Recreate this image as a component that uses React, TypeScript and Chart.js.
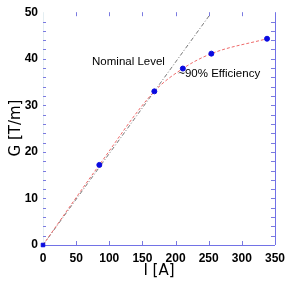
import React, { useEffect, useRef } from "react";
import { Chart, registerables } from "chart.js";

Chart.register(...registerables);

const currentA = [0, 85, 168, 211, 254, 338];
const gradientTm = [0, 17.2, 33, 37.9, 41.1, 44.3];
const nominalI = [0, 252];
const nominalG = [0, 49.5];
const xTickValues = [0, 50, 100, 150, 200, 250, 300, 350];
const yMinorStep = 2;
const annotations = [
  { text: "Nominal Level", x: 74, y: 39.3 },
  { text: "~90% Efficiency", x: 204, y: 36.8 },
];

const decoPlugin = {
  id: "deco",
  beforeDatasetsDraw(chart: any) {
    const { ctx, chartArea } = chart;
    const xs = chart.scales.x;
    const ys = chart.scales.y;
    const { left, right, top, bottom } = chartArea;
    ctx.save();
    ctx.lineWidth = 1;
    ctx.strokeStyle = "#e4eef2";
    ctx.beginPath();
    ctx.moveTo(left + 0.5, top);
    ctx.lineTo(left + 0.5, bottom);
    ctx.stroke();
    ctx.strokeStyle = "#7272e6";
    ctx.beginPath();
    ctx.moveTo(left, Math.round(bottom) + 0.5);
    ctx.lineTo(right, Math.round(bottom) + 0.5);
    ctx.moveTo(Math.round(right) + 0.5, top);
    ctx.lineTo(Math.round(right) + 0.5, bottom);
    ctx.stroke();
    ctx.strokeStyle = "#7a7ae0";
    ctx.beginPath();
    xTickValues.forEach((v) => {
      const px = Math.round(xs.getPixelForValue(v)) + 0.5;
      if (v > 0 && v < 350) {
        ctx.moveTo(px, bottom);
        ctx.lineTo(px, bottom - 4);
        ctx.moveTo(px, top);
        ctx.lineTo(px, top + 4);
      }
    });
    ctx.stroke();
    ctx.beginPath();
    for (let v = yMinorStep; v < 50; v += yMinorStep) {
      const py = Math.round(ys.getPixelForValue(v)) + 0.5;
      ctx.moveTo(left, py);
      ctx.lineTo(left + 3, py);
      ctx.moveTo(right, py);
      ctx.lineTo(right - 4, py);
    }
    ctx.stroke();
    ctx.restore();
  },
  afterDatasetsDraw(chart: any) {
    const { ctx, chartArea } = chart;
    const xs = chart.scales.x;
    const ys = chart.scales.y;
    ctx.save();
    ctx.fillStyle = "#000";
    ctx.font = "11.5px 'Liberation Sans'";
    ctx.textBaseline = "middle";
    ctx.textAlign = "left";
    annotations.forEach((a) => {
      ctx.fillText(a.text, xs.getPixelForValue(a.x), ys.getPixelForValue(a.y));
    });
    ctx.textAlign = "center";
    ctx.font = "15px 'DejaVu Sans'";
    ctx.fillText("I [A]", (chartArea.left + chartArea.right) / 2, 271);
    ctx.translate(16, 128);
    ctx.rotate(-Math.PI / 2);
    ctx.fillText("G [T/m]", 0, 0);
    ctx.restore();
  },
};

export default function App() {
  const ref = useRef<HTMLCanvasElement>(null);
  useEffect(() => {
    if (!ref.current) return;
    const chart = new Chart(ref.current, {
      type: "scatter",
      data: {
        datasets: [
          {
            type: "line",
            data: nominalI.map((x, i) => ({ x, y: nominalG[i] })),
            borderColor: "#777777",
            borderWidth: 1,
            borderDash: [4, 2, 1, 2],
            pointRadius: 0,
            fill: false,
            order: 3,
          } as any,
          {
            type: "line",
            data: currentA.map((x, i) => ({ x, y: gradientTm[i] })),
            borderColor: "#ee6a6a",
            borderWidth: 1,
            borderDash: [3, 2],
            pointRadius: 0,
            cubicInterpolationMode: "monotone",
            fill: false,
            order: 2,
          } as any,
          {
            data: currentA.map((x, i) => ({ x, y: gradientTm[i] })),
            backgroundColor: "#0a0ae0",
            borderColor: "#0a0ae0",
            pointRadius: 2.5,
            pointStyle: currentA.map((_, i) => (i === 0 ? "rect" : "circle")),
            clip: false,
            order: 1,
          } as any,
        ],
      },
      options: {
        animation: false,
        responsive: true,
        maintainAspectRatio: false,
        layout: { padding: { top: 8, right: 11, left: 0, bottom: 0 } },
        plugins: { legend: { display: false }, tooltip: { enabled: false } },
        scales: {
          x: {
            type: "linear",
            min: 0,
            max: 350,
            border: { display: false },
            grid: { display: false, drawTicks: false },
            ticks: {
              stepSize: 50,
              padding: 6,
              color: "#000",
              font: { family: "'Liberation Sans'", size: 12, weight: "bold" },
            },
            afterFit: (s: any) => {
              s.height = 44;
            },
          },
          y: {
            type: "linear",
            min: 0,
            max: 50,
            border: { display: false },
            grid: { display: false, drawTicks: false },
            ticks: {
              stepSize: 10,
              padding: 5,
              color: "#000",
              font: { family: "'Liberation Sans'", size: 12, weight: "bold" },
            },
            afterFit: (s: any) => {
              s.width = 43;
            },
          },
        },
      } as any,
      plugins: [decoPlugin],
    });
    return () => chart.destroy();
  }, []);
  return (
    <div style={{ position: "absolute", left: 0, top: 0, width: 291, height: 289, background: "#fff" }}>
      <canvas ref={ref} />
    </div>
  );
}
